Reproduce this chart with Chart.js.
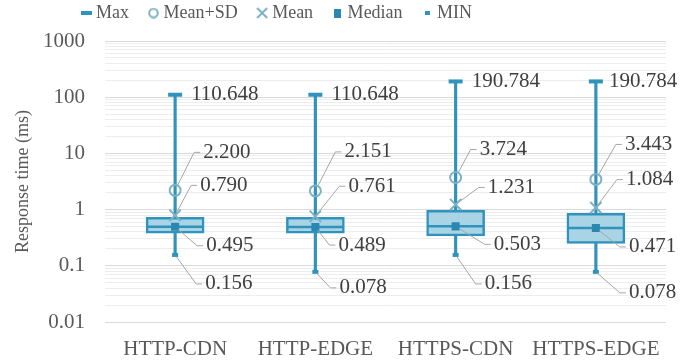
<!DOCTYPE html>
<html><head><meta charset="utf-8">
<script src="https://cdn.jsdelivr.net/npm/chart.js@4.4.1/dist/chart.umd.min.js"></script>
<style>html,body{margin:0;padding:0;background:#fff}#wrap{width:696px;height:362px}</style>
</head><body><div id="wrap"><canvas id="c" width="696" height="362"></canvas></div>
<script>
// ---- data ----
const categories = ['HTTP-CDN', 'HTTP-EDGE', 'HTTPS-CDN', 'HTTPS-EDGE'];
const maxVals    = [110.648, 110.648, 190.784, 190.784];
const meanSdVals = [2.200, 2.151, 3.724, 3.443];
const meanVals   = [0.790, 0.761, 1.231, 1.084];
const medianVals = [0.495, 0.489, 0.503, 0.471];
const minVals    = [0.156, 0.078, 0.156, 0.078];
const q1Vals     = [0.38, 0.38, 0.34, 0.25];
const q3Vals     = [0.73, 0.73, 0.97, 0.86];
const tickValues = [0.01, 0.1, 1, 10, 100, 1000];
const tickLabels = ['0.01', '0.1', '1', '10', '100', '1000'];
const yTitle = 'Response time (ms)';

// ---- styles ----
const C_DARK = '#2f93bb', C_FILL = '#a8d4e6', C_GREY = '#7db1c3', C_MED = '#2a88b0';
const TXT = '#595959', LBL = '#404040';
const SERIF = '"Liberation Serif", "Times New Roman", serif';
const LEG_FONT = 18, LEG_PAD = 23.5;

// label offsets (dx, dy) in px relative to marker, per category
const labelOffsets = {
  max:    [[16, 0], [16, 0], [16, 0], [13, 0]],
  meanSd: [[28, -38], [29, -39], [24, -28], [29, -35]],
  mean:   [[25, -30], [33, -30], [32, -17], [30, -28]],
  median: [[31, 19], [23, 18], [38, 18], [33, 19]],
  min:    [[30, 29], [24, 16], [29, 29], [33, 21]]
};
const labelSeries = [
  {key: 'max', values: maxVals, gap: 0},
  {key: 'meanSd', values: meanSdVals, gap: 6},
  {key: 'mean', values: meanVals, gap: 3},
  {key: 'median', values: medianVals, gap: 4},
  {key: 'min', values: minVals, gap: 2}
];

function mk(w, h, draw) { const c = document.createElement('canvas'); c.width = w; c.height = h; draw(c.getContext('2d')); return c; }
const legMax = mk(11, 4, g => { g.fillStyle = C_DARK; g.fillRect(0, 0, 11, 4); });
const legMeanSd = mk(11, 11, g => { g.strokeStyle = C_GREY; g.lineWidth = 2; g.beginPath(); g.arc(5.5, 5.5, 4.3, 0, Math.PI * 2); g.stroke(); });
const legMean = mk(12, 12, g => { g.strokeStyle = C_GREY; g.lineWidth = 2; g.beginPath(); g.moveTo(1, 1); g.lineTo(11, 11); g.moveTo(11, 1); g.lineTo(1, 11); g.stroke(); });
const legMedian = mk(7, 9, g => { g.fillStyle = C_MED; g.fillRect(0, 0, 7, 9); });
const legMin = mk(5, 4, g => { g.fillStyle = C_DARK; g.fillRect(0, 0, 5, 4); });

const wiskerData = minVals.map((v, i) => [v, maxVals[i]]);
const boxData = q1Vals.map((v, i) => [v, q3Vals[i]]);

const labelPlugin = {
  id: 'valueLabels',
  afterDatasetsDraw(chart) {
    const ctx = chart.ctx, xs = chart.scales.x, ys = chart.scales.y;
    ctx.save();
    ctx.font = '21px ' + SERIF;
    ctx.textBaseline = 'middle';
    ctx.textAlign = 'left';
    labelSeries.forEach(s => {
      s.values.forEach((v, i) => {
        const x = xs.getPixelForValue(i), y = ys.getPixelForValue(v);
        const [dx, dy] = labelOffsets[s.key][i];
        const lx = x + dx, ly = y + dy;
        if (dy !== 0) {
          const ex = lx - 9, ey = ly;
          const ang = Math.atan2(ey - y, ex - x);
          const sx = x + Math.cos(ang) * s.gap, sy = y + Math.sin(ang) * s.gap;
          ctx.strokeStyle = '#a6a6a6'; ctx.lineWidth = 1;
          ctx.beginPath(); ctx.moveTo(sx, sy); ctx.lineTo(ex, ey); ctx.lineTo(lx - 3, ly); ctx.stroke();
        }
        ctx.fillStyle = LBL;
        ctx.fillText(v.toFixed(3), lx, ly);
      });
    });
    ctx.restore();
  }
};

const legendShift = {
  id: 'legendShift',
  afterLayout(chart) {
    const lg = chart.legend;
    if (!lg) return;
    lg.left = 85 - LEG_PAD; lg.right = 696;
    lg.top = 13 - LEG_PAD - LEG_FONT / 2;
  }
};

new Chart(document.getElementById('c'), {
  type: 'bar',
  data: {
    labels: categories,
    datasets: [
      {label: 'whisker', data: wiskerData, backgroundColor: C_DARK, borderWidth: 0, barThickness: 2.5, grouped: false, order: 20},
      {label: 'box', data: boxData, backgroundColor: C_FILL, borderColor: C_DARK, borderWidth: 2.5, borderSkipped: false, barThickness: 58, grouped: false, order: 19},
      {type: 'line', label: 'medianLine', data: medianVals, showLine: false, pointStyle: 'line', pointRadius: 27.5, borderColor: C_DARK, pointBorderWidth: 2.5, order: 18},
      {type: 'line', label: 'Max', data: maxVals, showLine: false, pointStyle: 'line', pointRadius: 7, pointBorderColor: C_DARK, pointBorderWidth: 4, order: 6},
      {type: 'line', label: 'Mean+SD', data: meanSdVals, showLine: false, pointStyle: 'circle', pointRadius: 5.5, pointBackgroundColor: 'rgba(0,0,0,0)', pointBorderColor: C_GREY, pointBorderWidth: 2, order: 4},
      {type: 'line', label: 'Mean', data: meanVals, showLine: false, pointStyle: 'crossRot', pointRadius: 8, pointBorderColor: C_GREY, pointBorderWidth: 2, order: 3},
      {type: 'line', label: 'Median', data: medianVals, showLine: false, pointStyle: 'rect', pointRadius: 5.7, pointBackgroundColor: C_MED, pointBorderColor: C_MED, pointBorderWidth: 0, order: 2},
      {type: 'line', label: 'MIN', data: minVals, showLine: false, pointStyle: 'line', pointRadius: 3, pointBorderColor: C_DARK, pointBorderWidth: 4, order: 5}
    ]
  },
  options: {
    responsive: false,
    animation: false,
    events: [],
    layout: {padding: {left: 0, right: 24, top: 0, bottom: 0}},
    plugins: {
      tooltip: {enabled: false},
      legend: {
        position: 'top', align: 'start', maxHeight: 41,
        labels: {
          usePointStyle: true, boxWidth: 2, boxHeight: 10, padding: LEG_PAD,
          font: {family: SERIF, size: LEG_FONT}, color: TXT,
          generateLabels: () => [
            {text: 'Max', pointStyle: legMax, fillStyle: C_DARK, strokeStyle: C_DARK, lineWidth: 0, hidden: false, datasetIndex: 3, fontColor: TXT},
            {text: 'Mean+SD', pointStyle: legMeanSd, fillStyle: C_GREY, strokeStyle: C_GREY, lineWidth: 0, hidden: false, datasetIndex: 4, fontColor: TXT},
            {text: 'Mean', pointStyle: legMean, fillStyle: C_GREY, strokeStyle: C_GREY, lineWidth: 0, hidden: false, datasetIndex: 5, fontColor: TXT},
            {text: 'Median', pointStyle: legMedian, fillStyle: C_MED, strokeStyle: C_MED, lineWidth: 0, hidden: false, datasetIndex: 6, fontColor: TXT},
            {text: 'MIN', pointStyle: legMin, fillStyle: C_DARK, strokeStyle: C_DARK, lineWidth: 0, hidden: false, datasetIndex: 7, fontColor: TXT}
          ]
        }
      }
    },
    scales: {
      x: {
        grid: {display: false},
        border: {display: false},
        ticks: {font: {family: SERIF, size: 21}, color: TXT, padding: 7, maxRotation: 0},
        afterFit: s => { s.height = 40; }
      },
      y: {
        type: 'logarithmic', min: 0.01, max: 1000,
        border: {display: false},
        grid: {drawTicks: false, color: c => (c.tick && tickValues.includes(c.tick.value)) ? '#d9d9d9' : '#ededed', lineWidth: 1},
        ticks: {autoSkip: false, padding: 20, font: {family: SERIF, size: 21}, color: TXT,
          callback: (v) => { const j = tickValues.indexOf(v); return j >= 0 ? tickLabels[j] : ''; }},
        afterBuildTicks: scale => {
          const t = [];
          tickValues.forEach((v, i) => {
            t.push({value: v, major: true});
            if (i < tickValues.length - 1) for (let k = 2; k <= 9; k++) t.push({value: +(v * k).toPrecision(4), major: false});
          });
          scale.ticks = t;
        },
        afterFit: s => { s.width = 105; },
        title: {display: true, text: yTitle, font: {family: SERIF, size: 18}, color: TXT, padding: {top: 12, bottom: 0}}
      }
    }
  },
  plugins: [labelPlugin, legendShift]
});
</script>
</body></html>
